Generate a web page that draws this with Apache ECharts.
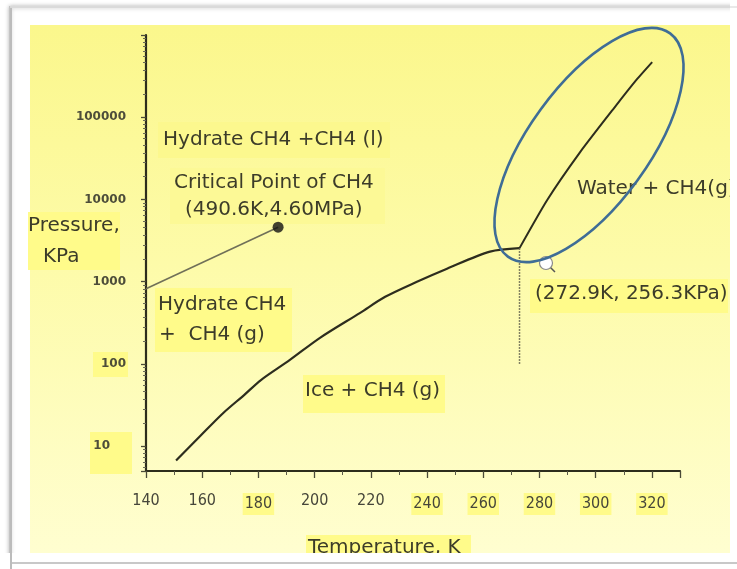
<!DOCTYPE html>
<html>
<head>
<meta charset="utf-8">
<script src="https://cdn.jsdelivr.net/npm/echarts@6/dist/echarts.min.js"></script>
<style>
  html, body { margin: 0; padding: 0; background: #ffffff; }
  #chart { width: 737px; height: 569px; }
</style>
</head>
<body>
<div id="chart"></div>
<script>
// Methane hydrate phase boundaries: temperature in K, pressure in kPa.

// Hydrate / ice / gas equilibrium line
const iceLineT = [150.7, 159.2, 167.4, 174.9, 180.9, 191.2, 201.9, 216.2, 225.1, 236.4, 247.1, 262.4, 272.9];
const iceLineP = [6.7, 13.2, 25.2, 41.9, 63.8, 112, 208, 419, 656, 1000, 1442, 2323, 2563];

// Hydrate / water / gas equilibrium line
const waterLineT = [272.9, 282.7, 294.4, 306.2, 314.7, 320.1];
const waterLineP = [2563, 9800, 37400, 125000, 290000, 469000];

// Hydrate / liquid CH4 boundary up to the critical point
const liquidLineT = [140, 187];
const liquidLineP = [820, 4600];

// Ice / water line below the quadruple point
const meltLineT = [272.9, 272.9];
const meltLineP = [2563, 100];

// Critical point of CH4
const criticalT = [187];
const criticalP = [4600];

// Axis ticks
const xLabelValues = [140, 160, 180, 200, 220, 240, 260, 280, 300, 320];
const xHighlighted = [180, 240, 260, 280, 300, 320];
const yLabelValues = [10, 100, 1000, 10000, 100000];

const pairs = (t, p) => t.map((v, i) => [v, p[i]]);

const INK = '#3c3c29';
const LABEL_FONT = '"DejaVu Sans Condensed", "DejaVu Sans", sans-serif';
const NOTE_FONT = '"DejaVu Sans", sans-serif';
const HILITE = '#fffb8a';

function note(text, x, y) {
  return {
    type: 'text', x: x, y: y, z: 10,
    style: {
      text: text,
      fontSize: 20,
      fontFamily: NOTE_FONT,
      fill: INK,
      align: 'left',
      verticalAlign: 'middle'
    }
  };
}

function patch(x, y, w, h, color) {
  return { type: 'rect', z: -18, shape: { x: x, y: y, width: w, height: h }, style: { fill: color || HILITE } };
}

const chart = echarts.init(document.getElementById('chart'), null, { renderer: 'canvas' });

chart.setOption({
  animation: false,
  backgroundColor: '#ffffff',
  grid: { left: 146, top: 35, right: 57, bottom: 98, containLabel: false },
  xAxis: {
    type: 'value',
    min: 140,
    max: 330,
    interval: 20,
    axisLine: { show: true, lineStyle: { color: '#2d2d1c', width: 2.2 } },
    axisTick: { show: true, length: 7, lineStyle: { color: '#4a4a38', width: 1.3 } },
    minorTick: { show: true, splitNumber: 2, length: 4, lineStyle: { color: '#5a5a48', width: 1 } },
    splitLine: { show: false },
    minorSplitLine: { show: false },
    axisLabel: {
      margin: 22,
      fontSize: 16,
      fontFamily: LABEL_FONT,
      color: '#46463a',
      formatter: function (v) {
        if (xLabelValues.indexOf(v) < 0) return '';
        return xHighlighted.indexOf(v) >= 0 ? '{hl|' + v + '}' : String(v);
      },
      rich: {
        hl: { fontSize: 16, fontFamily: LABEL_FONT, color: '#46463a', backgroundColor: HILITE, padding: [3, 2, 3, 2] }
      }
    }
  },
  yAxis: {
    type: 'log',
    logBase: 10,
    min: 5,
    max: 1000000,
    axisLine: { show: true, lineStyle: { color: '#2d2d1c', width: 2.2 } },
    axisTick: { show: true, length: 5, lineStyle: { color: '#4a4a38', width: 1.3 } },
    minorTick: { show: true, splitNumber: 10, length: 3, lineStyle: { color: '#6a6a56', width: 1 } },
    splitLine: { show: false },
    minorSplitLine: { show: false },
    axisLabel: {
      margin: 20,
      fontSize: 12,
      fontWeight: 'bold',
      fontFamily: '"DejaVu Sans", sans-serif',
      color: '#4d4d3a',
      formatter: function (v) {
        const r = Math.round(v);
        if (yLabelValues.indexOf(r) < 0) return '';
        if (r === 10) return '{ten|10}';
        return String(r);
      },
      rich: {
        ten: { fontSize: 12, fontWeight: 'bold', fontFamily: '"DejaVu Sans", sans-serif', color: '#4d4d3a',
               padding: [0, 16, 0, 0] }
      }
    }
  },
  graphic: [
    // page frame and tinted chart area
    { type: 'rect', z: -20, shape: { x: 10, y: 7, width: 740, height: 556 },
      style: { fill: '#ffffff', stroke: '#c4c4c4', lineWidth: 2, shadowBlur: 4, shadowColor: 'rgba(0,0,0,0.25)' } },
    { type: 'rect', z: -19, shape: { x: 30, y: 25, width: 700, height: 528 },
      style: {
        fill: new echarts.graphic.LinearGradient(0, 0, 0, 1, [
          { offset: 0, color: '#fbf78c' },
          { offset: 0.45, color: '#fdfba9' },
          { offset: 1, color: '#fffed0' }
        ])
      } },
    // brighter patches behind notes and a few tick labels
    patch(158, 122, 232, 36, '#fcf88e'),
    patch(170, 168, 215, 56, '#fcf996'),
    patch(28, 212, 92, 58),
    patch(155, 288, 137, 64),
    patch(303, 375, 142, 38),
    patch(530, 279, 198, 34),
    patch(306, 535, 165, 18),
    patch(90, 432, 42, 42),
    patch(93, 352, 35, 25),

    // region notes
    note('Hydrate CH4 +CH4 (l)', 163, 140),
    note('Critical Point of CH4', 174, 183),
    note('(490.6K,4.60MPa)', 185, 210),
    note('Hydrate CH4', 158, 305),
    note('+  CH4 (g)', 159, 335),
    note('Ice + CH4 (g)', 305, 391),
    note('Water + CH4(g)', 577, 189),
    note('(272.9K, 256.3KPa)', 535, 294),
    note('Pressure,', 28, 226),
    note('KPa', 43, 257),
    note('Temperature, K', 308, 548),

    // ellipse around the hydrate / water branch
    { type: 'ellipse', z: 30, x: 589, y: 145, rotation: 54 * Math.PI / 180,
      shape: { cx: 0, cy: 0, rx: 138, ry: 60 },
      style: { fill: 'none', stroke: '#3f6d96', lineWidth: 2.6 } },

    // pointer near the quadruple point
    { type: 'group', x: 546, y: 263, z: 30, children: [
      { type: 'line', shape: { x1: 3, y1: 3, x2: 9, y2: 9 }, style: { stroke: '#555', lineWidth: 1.5 } },
      { type: 'circle', shape: { cx: 0, cy: 0, r: 6.5 }, style: { fill: '#ffffff', stroke: '#8a8a8a', lineWidth: 1.2 } }
    ] },

    // frame margins drawn over the chart edges
    { type: 'rect', z: 40, shape: { x: 0, y: 553, width: 737, height: 16 }, style: { fill: '#ffffff' } },
    { type: 'rect', z: 40, shape: { x: 730, y: 0, width: 7, height: 569 }, style: { fill: '#ffffff' } },
    { type: 'line', z: 41, shape: { x1: 10, y1: 563, x2: 737, y2: 563 }, style: { stroke: '#c8c8c8', lineWidth: 2 } },
    { type: 'line', z: 41, shape: { x1: 11, y1: 7, x2: 11, y2: 569 }, style: { stroke: '#bcbcbc', lineWidth: 2 } },
    { type: 'line', z: 41, shape: { x1: 10, y1: 7, x2: 737, y2: 7 }, style: { stroke: '#e2e2e2', lineWidth: 1.5 } }
  ],
  series: [
    {
      name: 'Hydrate-Ice-Gas', type: 'line', smooth: 0.3, showSymbol: false, z: 5,
      data: pairs(iceLineT, iceLineP),
      lineStyle: { color: '#2d2d1e', width: 2.2 }
    },
    {
      name: 'Hydrate-Water-Gas', type: 'line', smooth: 0.2, showSymbol: false, z: 5,
      data: pairs(waterLineT, waterLineP),
      lineStyle: { color: '#2d2d1e', width: 2 }
    },
    {
      name: 'Hydrate-Liquid', type: 'line', showSymbol: false, z: 5,
      data: pairs(liquidLineT, liquidLineP),
      lineStyle: { color: '#707058', width: 1.6 }
    },
    {
      name: 'Ice-Water', type: 'line', showSymbol: false, z: 5,
      data: pairs(meltLineT, meltLineP),
      lineStyle: { color: '#5a5a48', width: 1.5, type: 'dotted' }
    },
    {
      name: 'Critical point', type: 'scatter', symbol: 'circle', symbolSize: 11, z: 6,
      data: pairs(criticalT, criticalP),
      itemStyle: { color: '#111111' }
    }
  ]
});
</script>
</body>
</html>
